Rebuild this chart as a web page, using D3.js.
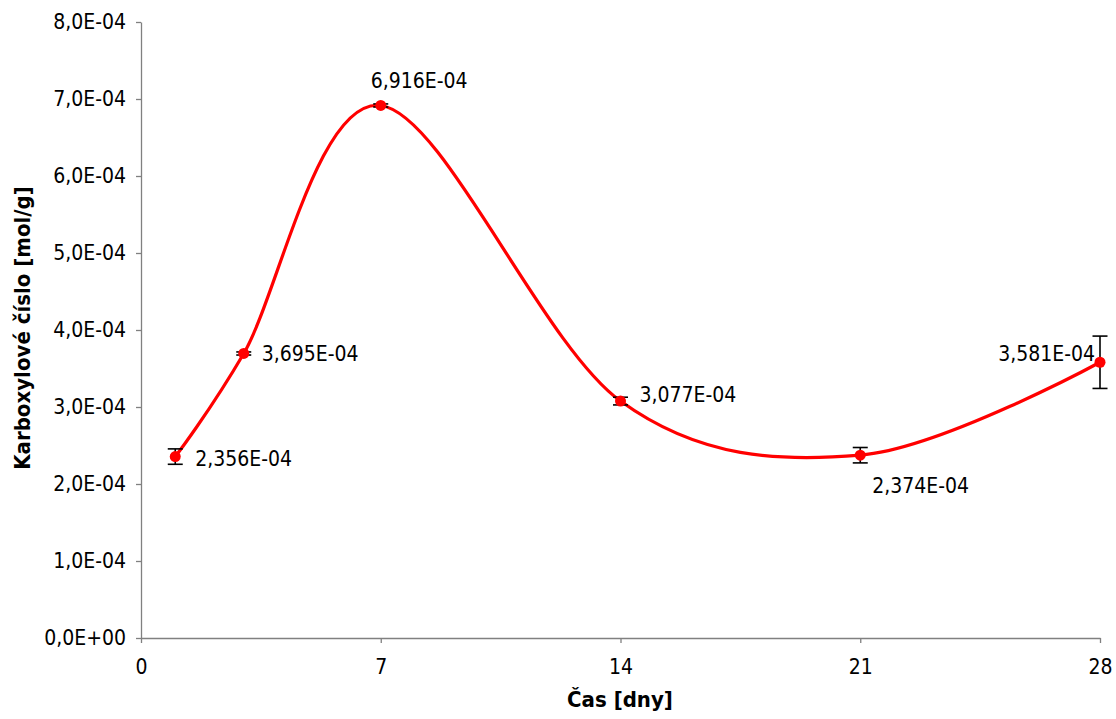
<!DOCTYPE html>
<html><head><meta charset="utf-8">
<script src="https://cdn.jsdelivr.net/npm/d3@7"></script>
<style>body{margin:0;background:#fff}svg{display:block}text{font-family:"DejaVu Sans Condensed","DejaVu Sans",sans-serif}</style>
</head><body><svg id="c" width="1116" height="719"></svg>
<script>
const days = [1, 3, 7, 14, 21, 28];
const values = [2.356e-4, 3.695e-4, 6.916e-4, 3.077e-4, 2.374e-4, 3.581e-4];
const errors = [0.10e-4, 0.02e-4, 0.02e-4, 0.05e-4, 0.10e-4, 0.34e-4];
const labels = ["2,356E-04", "3,695E-04", "6,916E-04", "3,077E-04", "2,374E-04", "3,581E-04"];
const xTicks = [0, 7, 14, 21, 28];
const yTicks = [0, 1e-4, 2e-4, 3e-4, 4e-4, 5e-4, 6e-4, 7e-4, 8e-4];

const FONT = '"DejaVu Sans Condensed","DejaVu Sans",sans-serif';
const svg = d3.select("#c");
const x = d3.scaleLinear().domain([0, 28]).range([141, 1100]);
const y = d3.scaleLinear().domain([0, 8e-4]).range([638, 22]);

const fmtY = v => { if (v === 0) return "0,0E+00"; const m = v / 1e-4; return m.toFixed(1).replace(".", ",") + "E-04"; };

const gx = svg.append("g").attr("transform", "translate(0,638)")
  .call(d3.axisBottom(x).tickValues(xTicks).tickSize(5).tickSizeOuter(0).tickPadding(16));
const gy = svg.append("g").attr("transform", "translate(141,0)")
  .call(d3.axisLeft(y).tickValues(yTicks).tickFormat(fmtY).tickSize(5).tickSizeOuter(0).tickPadding(10));
[gx, gy].forEach(g => {
  g.selectAll("path,line").attr("stroke", "#808080").attr("stroke-width", 1.3);
  g.selectAll("text").attr("font-size", 21).attr("fill", "#000").style("font-family", FONT);
});

const pts = days.map((d, i) => [d, values[i]]);
svg.append("path").datum(pts)
  .attr("d", d3.line().x(d => x(d[0])).y(d => y(d[1])).curve(d3.curveCardinal.tension(0)))
  .attr("fill", "none").attr("stroke", "#ff0000").attr("stroke-width", 3.2);

const eb = svg.append("g").attr("stroke", "#000").attr("stroke-width", 1.6);
days.forEach((d, i) => {
  const cx = x(d), t = y(values[i] + errors[i]), b = y(values[i] - errors[i]);
  eb.append("line").attr("x1", cx).attr("x2", cx).attr("y1", t).attr("y2", b);
  eb.append("line").attr("x1", cx - 7.5).attr("x2", cx + 7.5).attr("y1", t).attr("y2", t);
  eb.append("line").attr("x1", cx - 7.5).attr("x2", cx + 7.5).attr("y1", b).attr("y2", b);
});

svg.append("g").selectAll("circle").data(pts).join("circle")
  .attr("cx", d => x(d[0])).attr("cy", d => y(d[1])).attr("r", 5.5).attr("fill", "#ff0000");

const lblOff = [[20, 2, "start"], [18, 0, "start"], [-10, -25, "start"], [19, -7, "start"], [12, 30, "start"], [-5, -9, "end"]];
svg.append("g").selectAll("text").data(pts).join("text")
  .attr("x", (d, i) => x(d[0]) + lblOff[i][0]).attr("y", (d, i) => y(d[1]) + lblOff[i][1])
  .attr("dy", "0.36em").attr("text-anchor", (d, i) => lblOff[i][2])
  .attr("font-size", 21).text((d, i) => labels[i]);

svg.append("text").attr("x", 620).attr("y", 707).attr("text-anchor", "middle")
  .attr("font-size", 22).attr("font-weight", "bold").text("Čas [dny]");
svg.append("text").attr("transform", "translate(30,328) rotate(-90)").attr("text-anchor", "middle")
  .attr("font-size", 22).attr("font-weight", "bold").text("Karboxylové číslo [mol/g]");
</script></body></html>
